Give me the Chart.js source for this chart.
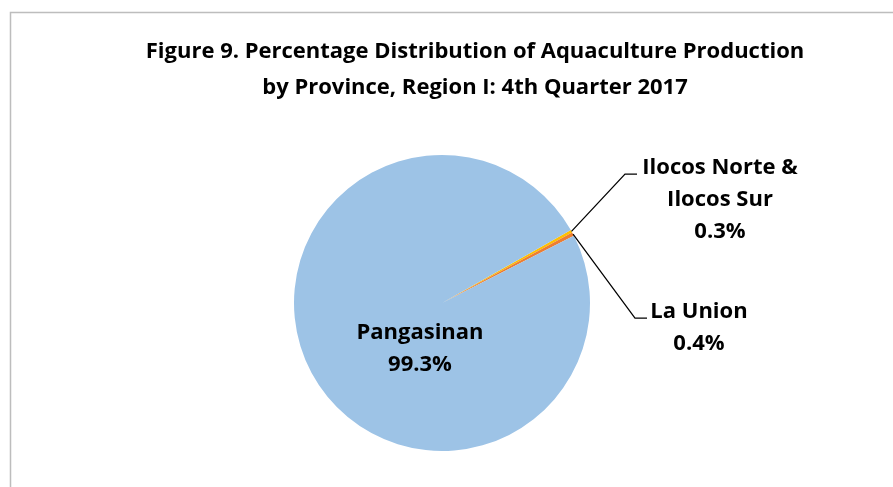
<!DOCTYPE html>
<html>
<head>
<meta charset="utf-8">
<script src="https://cdn.jsdelivr.net/npm/chart.js@4.4.0/dist/chart.umd.min.js"></script>
<style>
  html, body { margin: 0; padding: 0; background: #fff; }
  #wrap { width: 893px; height: 487px; }
</style>
</head>
<body>
<div id="wrap"><canvas id="pie"></canvas></div>
<script>
// Datos
const provincias = ['Ilocos Norte & Ilocos Sur', 'La Union', 'Pangasinan'];
const porcentajes = [0.3, 0.4, 99.3];
const colores = ['#FFC000', '#ED7D31', '#9DC3E6'];
const etiquetas = [['Ilocos Norte &', 'Ilocos Sur', '0.3%'], ['La Union', '0.4%'], ['Pangasinan', '99.3%']];
const titulo = ['Figure 9. Percentage Distribution of Aquaculture Production', 'by Province, Region I: 4th Quarter 2017'];

const FONT = '"Open Sans"';

// marco gris + título (el título va un poco a la derecha del centro del pastel)
const marco = {
  id: 'marco',
  beforeDraw(chart) {
    const c = chart.ctx;
    c.save();
    c.strokeStyle = '#BDBDBD';
    c.lineWidth = 1.5;
    c.beginPath();
    c.moveTo(10.5, chart.height);
    c.lineTo(10.5, 12.5);
    c.lineTo(chart.width, 12.5);
    c.stroke();

    c.font = 'bold 22px ' + FONT;
    c.fillStyle = '#000';
    c.textAlign = 'center';
    c.textBaseline = 'middle';
    titulo.forEach((t, i) => c.fillText(t, 475, 52 + i * 36));
    c.restore();
  }
};

// etiquetas con líneas guía, relativas al centro del pastel
const rotulos = {
  id: 'rotulos',
  afterDatasetsDraw(chart) {
    const c = chart.ctx;
    const arcs = chart.getDatasetMeta(0).data;
    const cx = arcs[0].x, cy = arcs[0].y, r = arcs[0].outerRadius;
    const lh = 32;
    c.save();
    c.font = 'bold 22px ' + FONT;
    c.fillStyle = '#000';
    c.textAlign = 'center';
    c.textBaseline = 'middle';

    const lay = [
      { tx: cx + 278, ty: cy - 135, elbow: [cx + 183, cy - 129], end: [cx + 195, cy - 129] },
      { tx: cx + 257, ty: cy + 9, elbow: [cx + 193, cy + 15], end: [cx + 205, cy + 15] },
      { tx: cx - 22, ty: cy + 30 }
    ];

    lay.forEach((L, i) => {
      const a = arcs[i];
      if (L.elbow) {
        const mid = (a.startAngle + a.endAngle) / 2;
        c.strokeStyle = '#000';
        c.lineWidth = 1.25;
        c.beginPath();
        c.moveTo(cx + Math.cos(mid) * r, cy + Math.sin(mid) * r);
        c.lineTo(L.elbow[0], L.elbow[1]);
        c.lineTo(L.end[0], L.end[1]);
        c.stroke();
      }
      etiquetas[i].forEach((t, j) => c.fillText(t, L.tx, L.ty + j * lh));
    });
    c.restore();
  }
};

new Chart(document.getElementById('pie'), {
  type: 'pie',
  data: {
    labels: provincias,
    datasets: [{ data: porcentajes, backgroundColor: colores, borderWidth: 0 }]
  },
  options: {
    responsive: true,
    maintainAspectRatio: false,
    animation: false,
    rotation: 60.5,
    layout: { padding: { top: 155, bottom: 36, left: 0, right: 9 } },
    plugins: {
      legend: { display: false },
      tooltip: { enabled: false },
      title: { display: false }
    }
  },
  plugins: [marco, rotulos]
});
</script>
</body>
</html>
